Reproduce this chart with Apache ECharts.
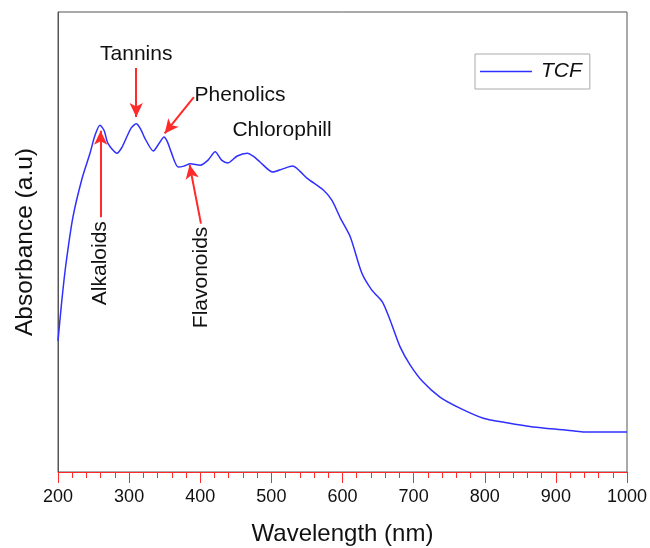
<!DOCTYPE html>
<html>
<head>
<meta charset="utf-8">
<script src="https://cdn.jsdelivr.net/npm/echarts@6/dist/echarts.min.js"></script>
<style>
  html, body { margin: 0; padding: 0; background: #fff; }
  #main { width: 650px; height: 548px; }
</style>
</head>
<body>
<div id="main"></div>
<script>
// wavelength (nm) and absorbance (a.u., arbitrary scale 0-100)
var wavelength = [200, 205, 211, 221, 234, 245, 252, 259, 265, 270, 283, 290, 296, 303, 310, 316, 322, 334, 342, 349, 354, 359, 369, 377, 386, 400, 411, 421, 430, 439, 452, 466, 475, 484, 502, 516, 530, 540, 550, 573, 585, 597, 611, 627, 641, 656, 667, 681, 695, 713, 737, 765, 798, 831, 868, 916, 938, 962, 1000];
var absorbance = [28.5, 36.7, 45.0, 55.4, 63.9, 69.3, 73.2, 75.4, 74.2, 71.5, 69.3, 70.6, 72.6, 74.8, 75.7, 74.6, 72.6, 69.8, 71.4, 72.8, 71.7, 69.6, 66.3, 66.5, 67.0, 66.7, 67.8, 69.6, 67.8, 67.2, 68.7, 69.3, 68.6, 67.4, 65.2, 65.9, 66.5, 65.4, 63.9, 61.3, 59.1, 55.2, 51.1, 43.3, 39.6, 37.0, 33.0, 27.2, 23.3, 19.6, 16.3, 13.9, 11.7, 10.7, 9.8, 9.1, 8.7, 8.7, 8.7];

// annotation arrows: [fromX, fromY, toX, toY]
var arrows = [
  [310, 87.8, 310, 77.2],
  [391, 81.5, 350, 73.6],
  [260, 55.4, 260, 74.2],
  [401, 54.0, 385, 66.8]
];
// annotation texts: [label, x, y, rotate]
var notes = [
  ['Tannins', 310, 90.9, 0],
  ['Phenolics', 456, 82.0, 0],
  ['Chlorophill', 515, 74.3, 0],
  ['Alkaloids', 260, 45.4, 90],
  ['Flavonoids', 401, 42.3, 90]
];

var points = wavelength.map(function (w, i) { return [w, absorbance[i]]; });
var red = '#ff2a2a';
var font = 'Liberation Sans, Arial, sans-serif';

var myChart = echarts.init(document.getElementById('main'));
var option = {
  animation: false,
  grid: {
    left: 58, right: 23, top: 12, bottom: 76,
    containLabel: false, outerBoundsMode: 'none',
    show: true, borderColor: '#555', borderWidth: 1
  },
  legend: {
    data: ['TCF'],
    left: 475, top: 54,
    icon: 'rect', itemWidth: 52, itemHeight: 1.5, itemGap: 0,
    borderColor: '#aaa', borderWidth: 1,
    padding: [7, 8, 7, 5],
    textStyle: { fontFamily: font, fontSize: 21, fontStyle: 'italic', color: '#111', padding: [0, 0, 0, 4] }
  },
  xAxis: {
    type: 'value', min: 200, max: 1000, interval: 100,
    name: 'Wavelength (nm)', nameLocation: 'middle', nameGap: 50,
    nameTextStyle: { fontFamily: font, fontSize: 24, color: '#111' },
    axisLine: { lineStyle: { color: red, width: 1 } },
    axisTick: { inside: false, length: 11, lineStyle: { color: red } },
    minorTick: { show: true, splitNumber: 5, length: 6, lineStyle: { color: red } },
    axisLabel: { fontFamily: font, fontSize: 18, color: '#111', margin: 16, formatter: function (v) { return String(v); } },
    splitLine: { show: false }
  },
  yAxis: {
    type: 'value', min: 0, max: 100,
    name: 'Absorbance (a.u)', nameLocation: 'middle', nameGap: 20, nameRotate: 90,
    nameTextStyle: { fontFamily: font, fontSize: 24.5, color: '#111' },
    axisLine: { show: true, lineStyle: { color: '#555' } },
    axisTick: { show: false },
    axisLabel: { show: false },
    splitLine: { show: false }
  },
  series: [{
    name: 'TCF',
    type: 'line',
    data: points,
    smooth: 0.25,
    symbol: 'none',
    lineStyle: { color: '#2f2fff', width: 1.5 },
    itemStyle: { color: '#2f2fff' },
    markLine: {
      silent: true,
      symbol: ['none', 'arrow'],
      symbolSize: [10, 14],
      label: { show: false },
      lineStyle: { color: red, width: 2, type: 'solid' },
      data: arrows.map(function (a) {
        return [{ coord: [a[0], a[1]] }, { coord: [a[2], a[3]] }];
      })
    },
    markPoint: {
      silent: true,
      symbol: 'circle', symbolSize: 0,
      data: notes.map(function (n) {
        return {
          coord: [n[1], n[2]],
          label: {
            show: true, formatter: n[0], position: 'inside', rotate: n[3],
            fontFamily: font, fontSize: 21, color: '#111'
          }
        };
      })
    }
  }]
};
myChart.setOption(option);
</script>
</body>
</html>
